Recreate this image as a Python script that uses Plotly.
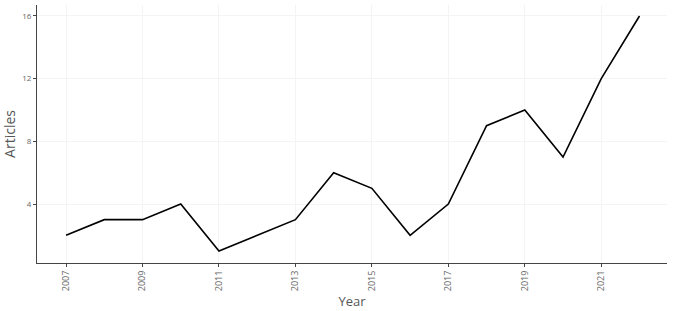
import plotly.graph_objects as go

years = list(range(2007, 2023))
articles = [2, 3, 3, 4, 1, 2, 3, 6, 5, 2, 4, 9, 10, 7, 12, 16]
x_ticks = [2007, 2009, 2011, 2013, 2015, 2017, 2019, 2021]
y_ticks = [4, 8, 12, 16]

fig = go.Figure(go.Scatter(x=years, y=articles, mode="lines",
                           line=dict(color="black", width=1.6)))

fig.update_layout(
    width=677, height=311,
    margin=dict(l=37, r=10, t=5, b=48),
    plot_bgcolor="white", paper_bgcolor="white",
    showlegend=False,
    font=dict(family="Open Sans", color="#555"),
)
fig.update_xaxes(
    range=[2006.24, 2022.72], tickvals=x_ticks, ticktext=[str(v) for v in x_ticks],
    tickangle=-90, tickfont=dict(size=9, color="#666"),
    showline=True, linecolor="#444", linewidth=1,
    ticks="outside", ticklen=3, tickcolor="#444",
    showgrid=True, gridcolor="#f4f4f4", gridwidth=1, zeroline=False,
    title=dict(text="Year", font=dict(size=13, color="#555"), standoff=6),
)
fig.update_yaxes(
    range=[0.235, 16.7], tickvals=y_ticks,
    tickfont=dict(size=8, color="#666"),
    showline=True, linecolor="#444", linewidth=1,
    ticks="outside", ticklen=3, tickcolor="#444",
    showgrid=True, gridcolor="#f4f4f4", gridwidth=1, zeroline=False,
    title=dict(text="Articles", font=dict(size=14, color="#555"), standoff=6),
)

fig.write_html("out.html")
